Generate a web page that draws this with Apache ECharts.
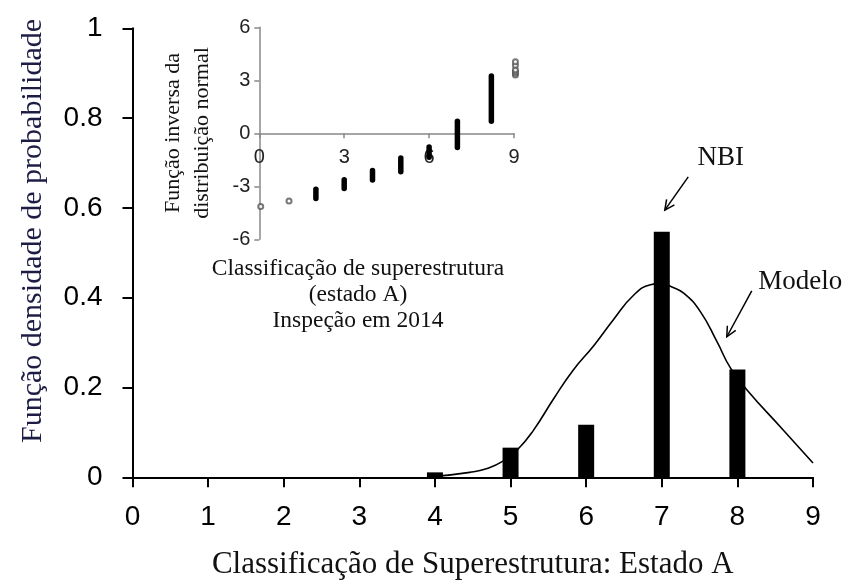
<!DOCTYPE html>
<html>
<head>
<meta charset="utf-8">
<script src="https://cdn.jsdelivr.net/npm/echarts@6/dist/echarts.min.js"></script>
<style>
  html, body { margin: 0; padding: 0; background: #fff; }
  #chart { width: 843px; height: 581px; }
</style>
</head>
<body>
<div id="chart"></div>
<script>
// histograma NBI (classificação de superestrutura, estado A)
const barX = [4, 5, 6, 7, 8];
const barY = [0.011, 0.066, 0.117, 0.547, 0.240];

// curva do modelo
const modelX = [4.0, 4.46, 4.68, 4.9, 5.1, 5.3, 5.57, 5.83, 6.1, 6.36, 6.63, 6.85, 7.0, 7.12, 7.29, 7.51, 7.73, 7.91, 8.13, 8.57, 9.0];
const modelY = [0.002, 0.011, 0.019, 0.036, 0.063, 0.104, 0.175, 0.239, 0.293, 0.351, 0.406, 0.429, 0.432, 0.425, 0.41, 0.369, 0.302, 0.243, 0.194, 0.112, 0.032];

// gráfico inserido: função inversa da distribuição normal
const stackX = [2, 3, 4, 5, 6, 7, 8.2];
const stackLow = [-3.69, -3.12, -2.64, -2.17, -1.35, -0.81, 0.68];
const stackHigh = [-3.16, -2.63, -2.10, -1.40, -0.77, 0.68, 3.25];
const openX = [0.05, 1.05, 9.05, 9.05, 9.05, 9.05, 9.05, 9.05];
const openY = [-4.15, -3.83, 3.3, 3.4, 3.5, 3.6, 3.85, 4.05];

// anotações (coordenadas no gráfico principal)
const annoText = ['NBI', 'Modelo'];
const annoPos = [[7.78, 0.712], [8.83, 0.435]];
const arrowFrom = [[7.35, 0.669], [8.19, 0.415]];
const arrowTo = [[7.04, 0.595], [7.86, 0.313]];

const serif = 'Liberation Serif';
const sans = 'Liberation Sans';

const chart = echarts.init(document.getElementById('chart'));

const insetHeight = 212;

const option = {
  animation: false,
  backgroundColor: '#fff',
  grid: [
    { left: 132.5, top: 28.3, right: 30, bottom: 103.7, outerBoundsMode: 'none' },
    { left: 259.3, top: 27.3, width: 254.7, height: insetHeight, outerBoundsMode: 'none' }
  ],
  xAxis: [
    {
      type: 'value', gridIndex: 0, min: 0, max: 9, interval: 1,
      name: 'Classificação de Superestrutura: Estado A',
      nameLocation: 'middle', nameGap: 72,
      nameTextStyle: { fontFamily: serif, fontSize: 31, color: '#111' },
      axisLine: { lineStyle: { color: '#000', width: 2 } },
      axisTick: { length: 10, lineStyle: { color: '#000', width: 2 } },
      axisLabel: { margin: 26, fontFamily: sans, fontSize: 28, color: '#000' },
      splitLine: { show: false }
    },
    {
      // eixo x do gráfico inserido passa por y = 0
      type: 'value', gridIndex: 1, min: 0, max: 9, interval: 3,
      offset: -insetHeight / 2,
      axisLine: { onZero: false, lineStyle: { color: '#888', width: 1.5 } },
      axisTick: { length: 5, lineStyle: { color: '#888', width: 1.5 } },
      axisLabel: { margin: 14, fontFamily: sans, fontSize: 20, color: '#222' },
      splitLine: { show: false }
    }
  ],
  yAxis: [
    {
      type: 'value', gridIndex: 0, min: 0, max: 1, interval: 0.2,
      axisLine: { lineStyle: { color: '#000', width: 2 } },
      axisTick: { length: 10, lineStyle: { color: '#000', width: 2 } },
      axisLabel: { margin: 30, fontFamily: sans, fontSize: 28, color: '#000' },
      splitLine: { show: false }
    },
    {
      type: 'value', gridIndex: 1, min: -6, max: 6, interval: 3,
      axisLine: { onZero: false, lineStyle: { color: '#888', width: 1.5 } },
      axisTick: { show: true, length: 5, lineStyle: { color: '#888', width: 1.5 } },
      axisLabel: { margin: 9, fontFamily: sans, fontSize: 20, color: '#222' },
      splitLine: { show: false }
    }
  ],
  series: [
    {
      name: 'NBI',
      type: 'bar',
      xAxisIndex: 0, yAxisIndex: 0,
      data: barX.map((x, i) => [x, barY[i]]),
      barWidth: 16,
      itemStyle: { color: '#000' }
    },
    {
      name: 'Modelo',
      type: 'line',
      xAxisIndex: 0, yAxisIndex: 0,
      data: modelX.map((x, i) => [x, modelY[i]]),
      smooth: 0.5,
      symbol: 'none',
      lineStyle: { color: '#000', width: 1.6 },
      z: 3
    },
    {
      type: 'custom',
      xAxisIndex: 1, yAxisIndex: 1,
      data: stackX.map((x, i) => [x, stackLow[i], stackHigh[i]]),
      encode: { x: 0, y: [1, 2] },
      clip: false,
      renderItem: (params, api) => {
        const lo = api.coord([api.value(0), api.value(1)]);
        const hi = api.coord([api.value(0), api.value(2)]);
        return {
          type: 'line',
          shape: { x1: lo[0], y1: lo[1], x2: hi[0], y2: hi[1] },
          style: { stroke: '#000', lineWidth: 5.5, lineCap: 'round' }
        };
      }
    },
    {
      type: 'scatter',
      xAxisIndex: 1, yAxisIndex: 1,
      data: openX.map((x, i) => [x, openY[i]]),
      clip: false,
      symbol: 'emptyCircle',
      symbolSize: 5,
      itemStyle: { color: '#555', borderWidth: 1 }
    }
  ]
};

chart.setOption(option);

// textos e setas
const graphics = [
  {
    type: 'text', x: 33, y: 231, rotation: Math.PI / 2,
    style: {
      text: 'Função densidade de probabilidade',
      font: '30px "' + serif + '"', fill: '#1c1c45',
      align: 'center', verticalAlign: 'middle'
    }
  },
  {
    type: 'text', x: 188, y: 133, rotation: Math.PI / 2,
    style: {
      text: 'Função inversa da\ndistribuição normal',
      font: '22px "' + serif + '"', fill: '#111', lineHeight: 29,
      align: 'center', verticalAlign: 'middle'
    }
  },
  {
    type: 'text', x: 358, y: 295,
    style: {
      text: 'Classificação de superestrutura\n(estado A)\nInspeção em 2014',
      font: '23.5px "' + serif + '"', fill: '#111', lineHeight: 26,
      align: 'center', verticalAlign: 'middle'
    }
  }
];

annoText.forEach((t, i) => {
  const p = chart.convertToPixel({ gridIndex: 0 }, annoPos[i]);
  graphics.push({
    type: 'text', x: p[0], y: p[1],
    style: { text: t, font: '27px "' + serif + '"', fill: '#111', align: 'center', verticalAlign: 'middle' }
  });
  const p0 = chart.convertToPixel({ gridIndex: 0 }, arrowFrom[i]);
  const p1 = chart.convertToPixel({ gridIndex: 0 }, arrowTo[i]);
  const ang = Math.atan2(p1[1] - p0[1], p1[0] - p0[0]);
  const L = 11, a = 0.45;
  const h1 = [p1[0] - L * Math.cos(ang - a), p1[1] - L * Math.sin(ang - a)];
  const h2 = [p1[0] - L * Math.cos(ang + a), p1[1] - L * Math.sin(ang + a)];
  graphics.push({
    type: 'line',
    shape: { x1: p0[0], y1: p0[1], x2: p1[0], y2: p1[1] },
    style: { stroke: '#000', lineWidth: 1.5 }
  });
  graphics.push({
    type: 'polyline',
    shape: { points: [h1, p1, h2] },
    style: { stroke: '#000', fill: null, lineWidth: 1.5 }
  });
});

chart.setOption({ graphic: graphics });
</script>
</body>
</html>
